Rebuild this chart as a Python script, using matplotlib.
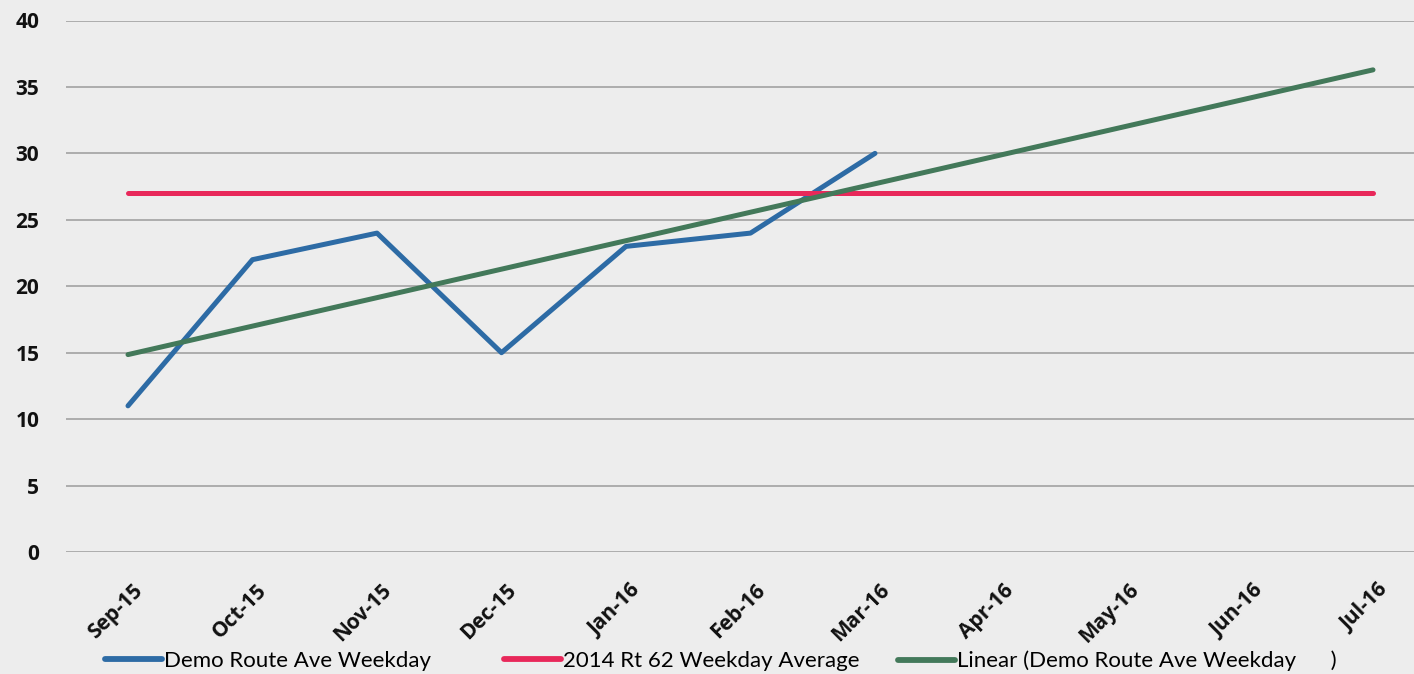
import numpy as np
import matplotlib.pyplot as plt
from matplotlib.lines import Line2D
from matplotlib.transforms import ScaledTranslation

###############################################################################
# Data
###############################################################################
MONTHS = [
    'Sep-15', 'Oct-15', 'Nov-15', 'Dec-15', 'Jan-16', 'Feb-16',
    'Mar-16', 'Apr-16', 'May-16', 'Jun-16', 'Jul-16'
]
DEMO = [11, 22, 24, 15, 23, 24, 30]
RT62 = [27] * len(MONTHS)
Y_TICKS = [0, 5, 10, 15, 20, 25, 30, 35, 40]
LABELS = [
    'Demo Route Ave Weekday',
    '2014 Rt 62 Weekday Average',
    'Linear (Demo Route Ave Weekday      )'
]

###############################################################################
# Styles
###############################################################################
(BLUE, RED, GREEN) = ('#2D6BA5', '#E8285A', '#43795A')
BG = '#EDEDED'
GRID = '#A8A8A8'
LW = 3.6
(W, H, DPI) = (1414, 674, 100)
TICK_FONT = ['Open Sans', 'DejaVu Sans']
LEG_FONT = ['Lato', 'DejaVu Sans']

# Linear trend (Excel style) over the demo months -----------------------------
xDemo = np.arange(len(DEMO))
(slope, icpt) = np.polyfit(xDemo, DEMO, 1)
xAll = np.arange(len(MONTHS))
trend = slope * xAll + icpt

###############################################################################
# Figure
###############################################################################
fig = plt.figure(figsize=(W / DPI, H / DPI), dpi=DPI, facecolor=BG)
ax = fig.add_axes([65.75 / W, 122 / H, 1369.5 / W, 531.5 / H])
ax.set_facecolor(BG)
ax.set_xlim(-0.5, len(MONTHS) - 0.5)
ax.set_ylim(0, 40)

for y in Y_TICKS:
    ax.axhline(y, color=GRID, lw=1.3, zorder=1)

lBlue, = ax.plot(xDemo, DEMO, color=BLUE, lw=LW, solid_capstyle='round',
                 solid_joinstyle='round', zorder=3)
lRed, = ax.plot(xAll, RT62, color=RED, lw=LW, solid_capstyle='round',
                zorder=4)
lGreen, = ax.plot(xAll, trend, color=GREEN, lw=LW, solid_capstyle='round',
                  zorder=5)

# Axes ------------------------------------------------------------------------
for s in ax.spines.values():
    s.set_visible(False)
ax.set_yticks(Y_TICKS)
ax.set_yticklabels([str(v) for v in Y_TICKS], family=TICK_FONT,
                   fontweight='bold', fontsize=15, color='#111111')
ax.set_xticks(xAll)
ax.set_xticklabels(MONTHS, rotation=45, ha='right', rotation_mode='anchor',
                   family=TICK_FONT, fontweight='bold', fontsize=15,
                   color='#111111')
ax.tick_params(axis='y', length=0, pad=19)
ax.tick_params(axis='x', length=0, pad=20)
shift = ScaledTranslation(4 / DPI, 0, fig.dpi_scale_trans)
for lbl in ax.get_xticklabels():
    lbl.set_transform(lbl.get_transform() + shift)

# Legend ----------------------------------------------------------------------
for (line, label, xPos) in zip(
        (lBlue, lRed, lGreen), LABELS, (105, 504, 898)):
    fig.legend(
        [Line2D([], [], color=line.get_color(), lw=4.2,
                solid_capstyle='round')],
        [label], loc='center left',
        bbox_to_anchor=(xPos / W, 1 - 661 / H),
        frameon=False, borderpad=0, borderaxespad=0,
        handlelength=2.55, handletextpad=0.12,
        prop={'family': LEG_FONT, 'size': 16}
    )

fig.savefig('out.png', dpi=DPI, facecolor=BG)
